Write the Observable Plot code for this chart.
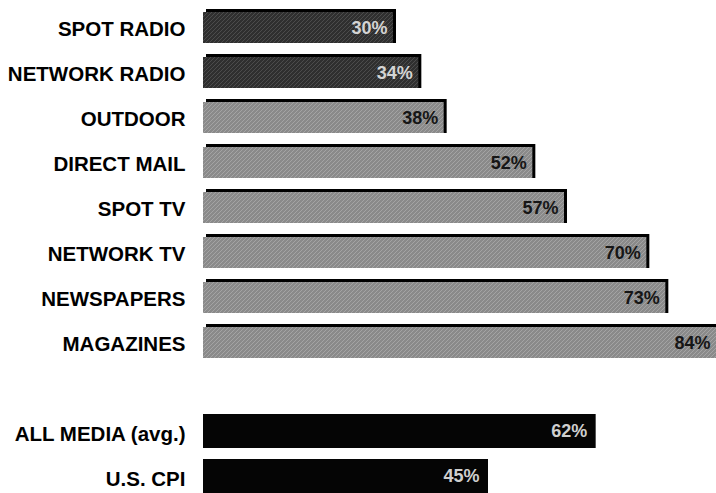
<!DOCTYPE html>
<html>
<head>
<meta charset="utf-8">
<script src="https://cdn.jsdelivr.net/npm/d3@7"></script>
<script src="https://cdn.jsdelivr.net/npm/@observablehq/plot@0.6"></script>
<style>
  html, body { margin: 0; padding: 0; background: #fff; }
  #chart svg { display: block; }
</style>
</head>
<body>
<div id="chart"></div>
<script>
const categories = ["SPOT RADIO", "NETWORK RADIO", "OUTDOOR", "DIRECT MAIL", "SPOT TV", "NETWORK TV", "NEWSPAPERS", "MAGAZINES", "", "ALL MEDIA (avg.)", "U.S. CPI"];
const media = ["SPOT RADIO", "NETWORK RADIO", "OUTDOOR", "DIRECT MAIL", "SPOT TV", "NETWORK TV", "NEWSPAPERS", "MAGAZINES", "ALL MEDIA (avg.)", "U.S. CPI"];
const values = [30, 34, 38, 52, 57, 70, 73, 84, 62, 45];
const groups = ["radio", "radio", "print", "print", "print", "print", "print", "print", "total", "total"];

const data = media.map((m, i) => ({name: m, value: values[i], group: groups[i]}));
const fills = {radio: "url(#hatchDark)", print: "url(#hatchGray)", total: "#050505"};
const textFill = {radio: "#d4d4d4", print: "#161616", total: "#cfcfcf"};
const shaded = data.filter(d => d.group !== "total");
const totals = data.filter(d => d.group === "total");

const plot = Plot.plot({
  width: 716,
  height: 493,
  marginLeft: 203,
  marginRight: 0,
  marginTop: 0,
  marginBottom: 0,
  x: {domain: [0, 81], range: [203, 716], clamp: true, axis: null},
  y: {domain: categories, range: [8.5, 494], paddingInner: 0.247, paddingOuter: 0, label: null},
  style: {fontFamily: "'Liberation Sans', Arial, sans-serif", background: "#fff"},
  marks: [
    Plot.axisY({tickSize: 0, tickPadding: 18, dy: 3, fontSize: 20.5, fontWeight: "bold", fill: "#000",
      stroke: "#000", strokeWidth: 0.5, label: null, tickFormat: d => d}),
    // black edge on top and right of the shaded bars
    Plot.barX(shaded, {x: "value", y: "name", fill: "#000", dx: 3}),
    Plot.barX(shaded, {x: "value", y: "name", fill: d => fills[d.group], insetTop: 3}),
    Plot.barX(totals, {x: "value", y: "name", fill: d => fills[d.group]}),
    Plot.text(shaded, {x: "value", y: "name", text: d => d.value + "%", textAnchor: "end", dx: -6, dy: 2,
      fill: d => textFill[d.group], fontSize: 18, fontWeight: "bold"}),
    Plot.text(totals, {x: "value", y: "name", text: d => d.value + "%", textAnchor: "end", dx: -9,
      fill: d => textFill[d.group], fontSize: 18, fontWeight: "bold"})
  ]
});

const svg = d3.select(plot);
const defs = svg.insert("defs", ":first-child");
const p1 = defs.append("pattern").attr("id", "hatchDark").attr("patternUnits", "userSpaceOnUse")
  .attr("width", 4).attr("height", 4);
p1.append("rect").attr("width", 4).attr("height", 4).attr("fill", "#2f2f2f");
p1.append("path").attr("d", "M0,4 L4,0 M-1,1 L1,-1 M3,5 L5,3").attr("stroke", "#4c4c4c").attr("stroke-width", 1);
const p2 = defs.append("pattern").attr("id", "hatchGray").attr("patternUnits", "userSpaceOnUse")
  .attr("width", 4).attr("height", 4);
p2.append("rect").attr("width", 4).attr("height", 4).attr("fill", "#8a8a8a");
p2.append("path").attr("d", "M0,4 L4,0 M-1,1 L1,-1 M3,5 L5,3").attr("stroke", "#a4a4a4").attr("stroke-width", 1);

document.getElementById("chart").appendChild(plot);
</script>
</body>
</html>
